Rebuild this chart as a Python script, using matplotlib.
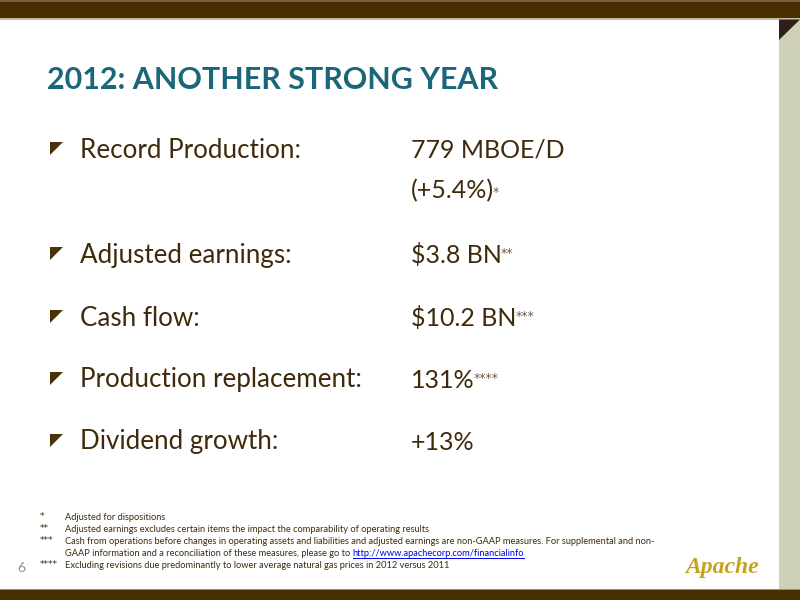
import matplotlib
matplotlib.use("Agg")
import matplotlib.pyplot as plt
from matplotlib.patches import Rectangle, Polygon

# slide content
title = "2012: ANOTHER STRONG YEAR"
labels = ["Record Production:", "Adjusted earnings:", "Cash flow:",
          "Production replacement:", "Dividend growth:"]
values = ["779 MBOE/D", "$3.8 BN", "$10.2 BN", "131%", "+13%"]
value_marks = ["", "**", "***", "****", ""]
extra_line = "(+5.4%)"
extra_mark = "*"
row_y = [150, 255, 318, 380, 442]
extra_y = 191

note_marks = ["*", "**", "***", "", "****"]
note_texts = [
    "Adjusted for dispositions",
    "Adjusted earnings excludes certain items the impact the comparability of operating results",
    "Cash from operations before changes in operating assets and liabilities and adjusted earnings are non-GAAP measures. For supplemental and non-",
    "GAAP information and a reconciliation of these measures, please go to ",
    "Excluding revisions due predominantly to lower average natural gas prices in 2012 versus 2011",
]
note_y = [517, 529, 541, 553, 565]
link = "http://www.apachecorp.com/financialinfo"
page_no = "6"

brown = "#472f00"
text_brown = "#3f2a0c"
teal = "#1b6678"
font = "Lato"

fig = plt.figure(figsize=(8, 6), dpi=100)
ax = fig.add_axes([0, 0, 1, 1])
ax.set_xlim(0, 800)
ax.set_ylim(600, 0)
ax.axis("off")

# frame
ax.add_patch(Rectangle((0, 0), 800, 18, color=brown, lw=0))
ax.add_patch(Rectangle((0, 0), 800, 1.5, color="#7a6040", lw=0))
ax.add_patch(Rectangle((0, 18), 800, 1.5, color="#c9b9a4", lw=0))
ax.add_patch(Rectangle((779, 19.5), 21, 569, color="#cfd1b6", lw=0))
ax.add_patch(Polygon([(779, 19.5), (800, 19.5), (779, 40)], closed=True,
                     color="#2f1f1b", lw=0))
ax.add_patch(Rectangle((0, 588.5), 800, 1.5, color="#9c8c70", lw=0))
ax.add_patch(Rectangle((0, 590), 800, 10, color=brown, lw=0))

ax.text(47, 80, title, fontsize=21.9, fontweight="bold", color=teal,
        family=font, va="center", ha="left")

fig.canvas.draw()
r = fig.canvas.get_renderer()


def after(t, gap=1):
    bb = t.get_window_extent(r)
    x1 = ax.transData.inverted().transform((bb.x1, bb.y0))[0]
    return x1 + gap


for lab, val, mk, y in zip(labels, values, value_marks, row_y):
    ax.add_patch(Polygon([(50, y - 8), (63, y - 8), (50, y + 5)],
                         closed=True, color="#4a3208", lw=0))
    ax.text(80, y, lab, fontsize=18.7, color=text_brown, family=font, va="center")
    t = ax.text(411, y, val, fontsize=18, color=text_brown, family=font, va="center")
    if mk:
        ax.text(after(t, -1), y + 2, mk, fontsize=9, color="#6e5d48",
                family="DejaVu Sans", va="baseline")

t = ax.text(411, extra_y, extra_line, fontsize=18, color=text_brown, family=font,
            va="center")
ax.text(after(t, -1), extra_y + 5, extra_mark, fontsize=9, color="#6e5d48",
        family="DejaVu Sans", va="baseline")

for mk, txt, y in zip(note_marks, note_texts, note_y):
    ax.text(40, y, mk, fontsize=6.7, color=text_brown, family="DejaVu Sans",
            va="center")
    t = ax.text(65, y, txt, fontsize=6.7, color=text_brown, family=font,
                va="center")
    if txt.endswith("go to "):
        x0 = after(t, 0)
        lt = ax.text(x0, y, link, fontsize=6.7, color="#0000ee", family=font,
                     va="center")
        x1 = after(lt, 0)
        ax.plot([x0, x1], [y + 5, y + 5], color="#0000ee", lw=0.7)

ax.text(17, 568, page_no, fontsize=10, color="#8c8c8c", family=font, va="center")

ax.text(722, 567, "Apache", fontsize=17, fontweight="bold", style="italic",
        color="#c4a21c", family="Liberation Serif", va="center", ha="center")

fig.savefig("out.png", dpi=100, facecolor="white")
